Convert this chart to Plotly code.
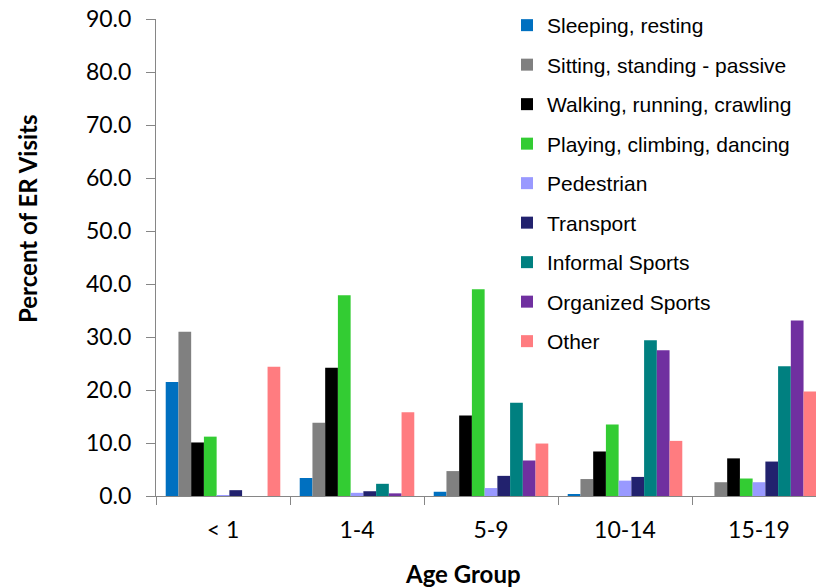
import plotly.graph_objects as go

age_groups = ["< 1", "1-4", "5-9", "10-14", "15-19"]

series_names = [
    "Sleeping, resting",
    "Sitting, standing - passive",
    "Walking, running, crawling",
    "Playing, climbing, dancing",
    "Pedestrian",
    "Transport",
    "Informal Sports",
    "Organized Sports",
    "Other",
]

sleeping = [21.5, 3.4, 0.8, 0.3, 0.0]
sitting = [31.0, 13.8, 4.7, 3.2, 2.6]
walking = [10.1, 24.2, 15.2, 8.4, 7.1]
playing = [11.2, 37.9, 39.0, 13.5, 3.3]
pedestrian = [0.1, 0.6, 1.5, 2.9, 2.6]
transport = [1.1, 0.9, 3.8, 3.6, 6.5]
informal = [0.0, 2.3, 17.6, 29.4, 24.5]
organized = [0.0, 0.5, 6.7, 27.5, 33.1]
other = [24.4, 15.8, 9.9, 10.4, 19.7]

series_values = [sleeping, sitting, walking, playing, pedestrian,
                 transport, informal, organized, other]

colors = ["#0070C0", "#808080", "#000000", "#33CC33", "#9999FF",
          "#22226E", "#008080", "#7030A0", "#FF7C80"]

y_ticks = [0, 10, 20, 30, 40, 50, 60, 70, 80, 90]

fig = go.Figure()
for name, vals, col in zip(series_names, series_values, colors):
    fig.add_trace(go.Bar(
        x=age_groups, y=vals, name=name, legendgroup=name,
        marker=dict(color=col, line=dict(width=0)),
    ))

W, H = 816, 587
L, R, T, B = 156, 0, 19, 91
pw = W - L - R
ph = H - T - B
cat_px = 134.0
x_end = -0.5 + pw / cat_px

axis_col = "#868686"
tick_font = dict(family="Lato, Calibri, sans-serif", size=23, color="#000000")
title_font = dict(family="Lato, Calibri, sans-serif", size=24, color="#000000")

fig.update_layout(
    width=W, height=H,
    margin=dict(l=L, r=R, t=T, b=B, pad=0),
    paper_bgcolor="white", plot_bgcolor="white",
    barmode="group", bargap=0.145, bargroupgap=0,
    showlegend=True,
    legend=dict(
        x=(507 - L) / pw, y=(H - B - 5) / ph,
        xanchor="left", yanchor="top",
        font=dict(family="Liberation Sans, Arial, sans-serif", size=21, color="#000000"),
        bgcolor="rgba(0,0,0,0)", borderwidth=0,
        tracegroupgap=9.2, traceorder="grouped",
        itemclick=False, itemdoubleclick=False,
        maxheight=600,
    ),
    xaxis=dict(
        type="category", range=[-0.5, x_end],
        showline=True, linecolor=axis_col, linewidth=1,
        ticks="outside", tickson="boundaries", ticklen=8, tickcolor=axis_col,
        tickfont=tick_font, showgrid=False, zeroline=False,
        ticklabelstandoff=13,
    ),
    yaxis=dict(
        range=[0, 90], tickvals=y_ticks, tickformat=".1f",
        showline=True, linecolor=axis_col, linewidth=1,
        ticks="outside", ticklen=9, tickcolor=axis_col,
        tickfont=tick_font, showgrid=False, zeroline=False,
        ticklabelstandoff=10,
    ),
    annotations=[
        dict(text="<b>Age Group</b>", xref="paper", yref="paper",
             x=(462.5 - L) / pw, y=(H - B - 573) / ph,
             xanchor="center", yanchor="middle", showarrow=False, font=title_font),
        dict(text="<b>Percent of ER Visits</b>", xref="paper", yref="paper",
             x=(27 - L) / pw, y=(H - B - 219) / ph, textangle=-90,
             xanchor="center", yanchor="middle", showarrow=False, font=title_font),
    ],
)

fig.write_html(
    "out.html",
    config={"displayModeBar": False, "responsive": False},
    post_script="document.body.style.margin='0';document.body.style.padding='0';",
)
